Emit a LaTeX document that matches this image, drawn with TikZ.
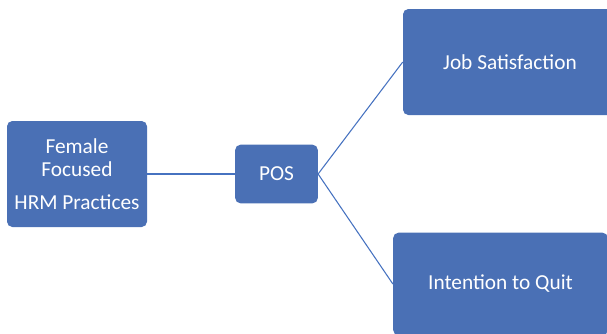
\documentclass[tikz,border=0pt]{standalone}
\usepackage{fontspec}
\setmainfont{Carlito}
\usepackage{xcolor}
\usepackage{tikz}
\usetikzlibrary{positioning}

\definecolor{boxblue}{HTML}{4A70B5}
\definecolor{lineblue}{HTML}{4672C0}

\tikzset{
    blockbox/.style={fill=boxblue, draw=none, rounded corners=4pt, text=white,
        font=\fontsize{16}{17.3}\selectfont, align=center, inner sep=0pt},
    link/.style={draw=lineblue, line width=0.8pt}
}

\begin{document}
\begin{tikzpicture}[x=0.75pt, y=-0.75pt]
    \useasboundingbox (0,0) rectangle (607,333);

    % Left: practices
    \node[blockbox, minimum width=105pt, minimum height=79.5pt] (female) at (77,174)
        {Female\\Focused\\[7.5pt]HRM Practices};

    % Middle: perceived support
    \node[blockbox, minimum width=62pt, minimum height=44pt] (pos) at (276.5,174) {POS};

    % Right: outcomes
    \node[blockbox, minimum width=160.5pt, minimum height=79.5pt] (jobsat) at (510,62) {Job Satisfaction};
    \node[blockbox, minimum width=161pt, minimum height=77pt] (quit) at (500.5,284) {Intention to Quit};

    % Links
    \draw[link] (female.east) -- (pos.west);
    \draw[link] (pos.east) -- (jobsat.west);
    \draw[link] (pos.east) -- (quit.west);
\end{tikzpicture}
\end{document}
